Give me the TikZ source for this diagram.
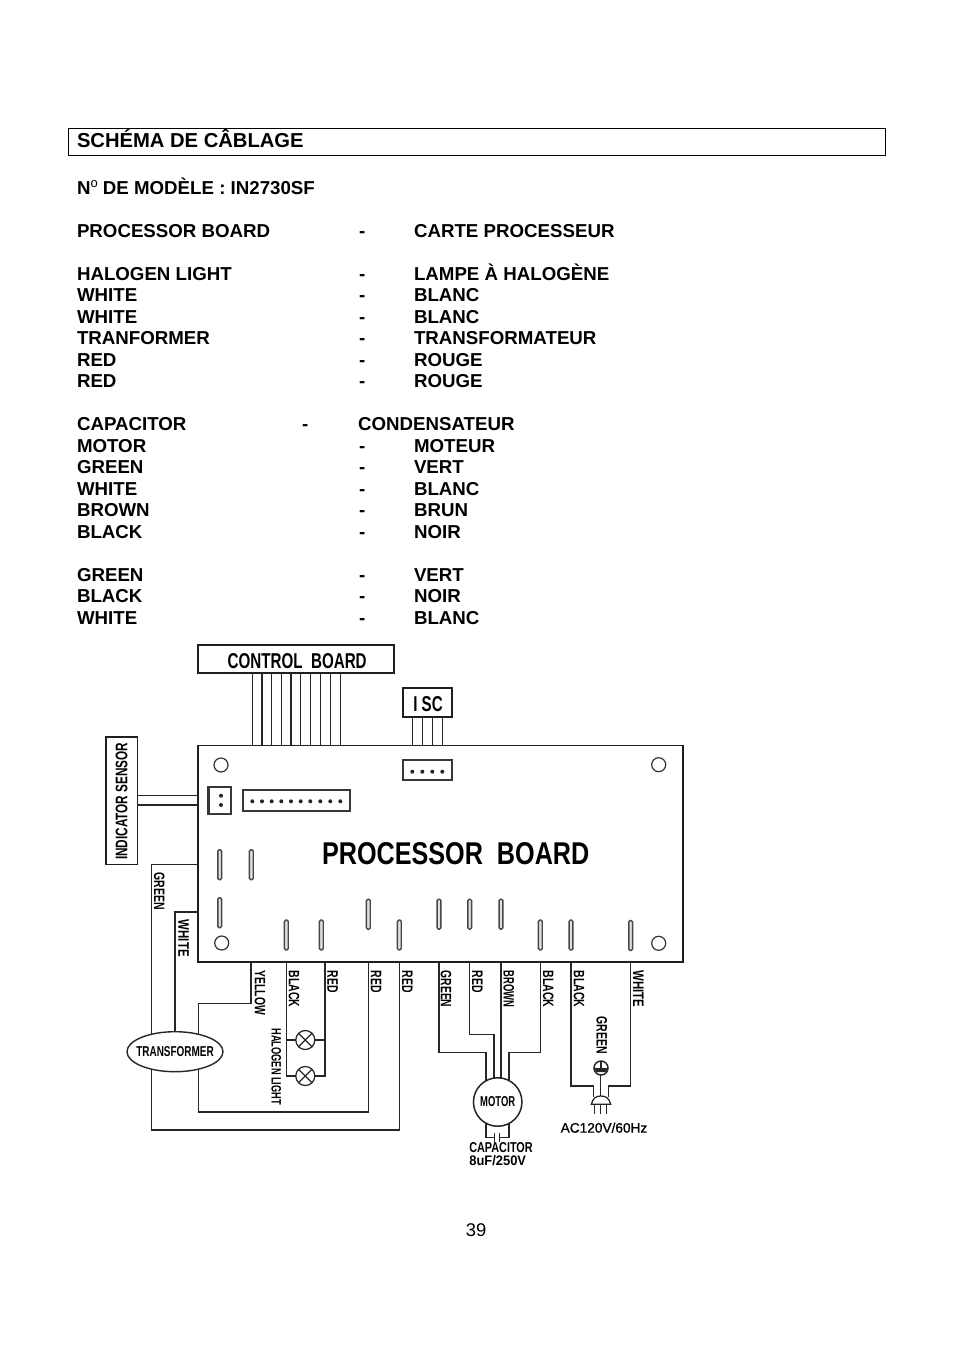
\documentclass[tikz,border=0pt]{standalone}
\usepackage{fontspec}
\setmainfont{Liberation Sans}
\newfontfamily\medf[FakeBold=1]{Liberation Sans}
\usetikzlibrary{calc,shapes.geometric}
\newcommand{\cad}[3]{\resizebox{#1pt}{#2pt}{\bfseries #3}}
\newcommand{\cadthin}[3]{\resizebox{#1pt}{#2pt}{\medf #3}}
\tikzset{
  x=1pt,y=-1pt,
  txt/.style={anchor=base west,inner sep=0,outer sep=0,font=\fontsize{18.7}{20}\selectfont\bfseries},
  heading/.style={txt,font=\fontsize{20.2}{20}\selectfont\bfseries},
  wire/.style={line width=1.25pt,black!85},
  box/.style={draw=black!88,line width=1.6pt,fill=white,inner sep=0,outer sep=0},
  lab/.style={inner sep=0,outer sep=0,anchor=center},
  vlab/.style={lab,rotate=-90},
  hole/.style={circle,draw=black!80,line width=1.2pt,minimum size=14pt,inner sep=0},
  slot/.style={rounded corners=1.4pt,draw=black!72,line width=1.4pt,fill=black!12,minimum width=3.8pt,minimum height=30pt,inner sep=0,outer sep=0},
  conn/.style={draw=black!78,line width=2.4pt,fill=white,inner sep=0,outer sep=0},
  pin/.style={circle,fill=black!85,inner sep=0,minimum size=4pt},
  lamp/.style={circle,draw=black!85,line width=1.25pt,fill=white,minimum size=19pt,inner sep=0,outer sep=0},
}
\begin{document}
\begin{tikzpicture}
\useasboundingbox (0,0) rectangle (954,1350);
% page heading
\node[draw=black,line width=0.8pt,inner sep=0,outer sep=0,minimum width=817pt,minimum height=27.5pt,anchor=north west] (hdr) at (68.5,128) {};
\node[heading] (t0) at (77,147.5) {SCHÉMA DE CÂBLAGE};
\node[txt] (t1) at (77,194) {N\raisebox{7pt}{\fontsize{13}{13}\selectfont\mdseries o} DE MODÈLE : IN2730SF};
\foreach \y/\a/\b [count=\i] in {
  237.1/PROCESSOR BOARD/CARTE PROCESSEUR,
  280.1/HALOGEN LIGHT/LAMPE À HALOGÈNE,
  301.1/WHITE/BLANC,
  323.1/WHITE/BLANC,
  344.1/TRANFORMER/TRANSFORMATEUR,
  366.1/RED/ROUGE,
  387.1/RED/ROUGE,
  452.1/MOTOR/MOTEUR,
  473.1/GREEN/VERT,
  495.1/WHITE/BLANC,
  516.1/BROWN/BRUN,
  538.1/BLACK/NOIR,
  581.1/GREEN/VERT,
  602.1/BLACK/NOIR,
  624.1/WHITE/BLANC}{
  \node[txt] (l\i) at (77,\y) {\a};
  \node[txt] (d\i) at (359,\y) {-};
  \node[txt] (r\i) at (414,\y) {\b};
}
\node[txt] (capl) at (77,430.1) {CAPACITOR};
\node[txt] (capd) at (302,430.1) {-};
\node[txt] (capr) at (358,430.1) {CONDENSATEUR};
\node[anchor=base,inner sep=0,font=\fontsize{18.4}{20}\selectfont] (page) at (476,1236.5) {39};

% boards and boxes
\node[box,anchor=north west,minimum width=485pt,minimum height=216.4pt] (board) at (197.7,745.3) {};
\node[box,anchor=north west,minimum width=196.3pt,minimum height=28.3pt] (ctrl) at (197.7,644.7) {};
\node[lab] at (297.2,660.7) {\cad{139}{15}{CONTROL\ \ BOARD}};
\node[box,anchor=north west,minimum width=49.3pt,minimum height=29pt] (isc) at (402.7,687.7) {};
\node[lab] at (428,704.3) {\cad{29.4}{15}{I SC}};
\node[box,anchor=north west,minimum width=31.6pt,minimum height=127.6pt] (sensor) at (105.7,736.7) {};
\node[lab,rotate=90] at (121.7,801.3) {\cad{117.3}{11.7}{INDICATOR SENSOR}};
\node[lab] (ptitle) at (455.7,853.8) {\cad{267.3}{22}{PROCESSOR\ \ BOARD}};

% holes
\node[hole] (h1) at (221,765) {};
\node[hole] (h2) at (658.7,764.7) {};
\node[hole] (h3) at (221.7,943) {};
\node[hole] (h4) at (658.7,943.3) {};

% connectors on the board
\node[conn,anchor=north west,minimum width=22.4pt,minimum height=27.3pt] (c2) at (208.3,786.7) {};
\node[pin] at (221,795.7) {};
\node[pin] at (221,805) {};
\node[conn,anchor=north west,minimum width=107.3pt,minimum height=20.7pt] (c10) at (242.7,790) {};
\node[conn,anchor=north west,minimum width=49.3pt,minimum height=20pt] (c4) at (402.7,760) {};
\foreach \x in {412.3,422.3,432.3,442.3}{
  \node[pin] at (\x,771.7) {};
  \draw[wire] (\x,716.7) -- (\x,745.3);
}
\foreach \x in {252.3,262,271.7,281.3,291,300.7,310.3,320.3,330.3,340.3}{
  \node[pin] at (\x,801.3) {};
  \draw[wire] (\x,673) -- (\x,745.3);
}
\draw[wire] (sensor.east |- 0,795.7) -- (board.west |- 0,795.7);
\draw[wire] (sensor.east |- 0,805) -- (board.west |- 0,805);

% slots
\foreach \n/\x/\y in {sa/219.7/864.7,sb/251.3/864.7,sc/219.7/912.7,sd/286.3/935,se/321.3/935,sf/368.3/914.2,sg/399.3/935,sh/439/914.2,si/469.7/914.2,sj/501/914.2,sk/540.3/935,sl/571/935,sm/630.7/935.5}{
  \node[slot] (\n) at (\x,\y) {};
}

% transformer, motor, lamps
\node[ellipse,draw=black!85,line width=1.4pt,fill=white,minimum width=96pt,minimum height=40pt,inner sep=0,outer sep=0] (tr) at (175,1051.7) {};
\node[lab] at (tr.center) {\cad{77.4}{10}{TRANSFORMER}};
\node[circle,draw=black!85,line width=1.5pt,fill=white,minimum size=48.5pt,inner sep=0,outer sep=0] (motor) at (497.7,1102) {};
\node[lab] at (motor.center) {\cad{35}{10}{MOTOR}};
\node[lamp] (la) at (305.3,1040) {};
\node[lamp] (lb) at (305.3,1076) {};
\foreach \n in {la,lb}{
  \draw[wire] (\n.45) -- (\n.225);
  \draw[wire] (\n.135) -- (\n.315);
}

% wiring: transformer side
\draw[wire] (board.west |- 0,864.7) -- (151.7,864.7) -- (151.7,1034.2);
\draw[wire] (151.7,1069.2) -- (151.7,1130) -| (sg |- board.south);
\draw[wire] (board.west |- 0,912) -| (tr.north);
\draw[wire] (251,961.7) |- (198.3,1003.7) -- (198.3,1034.2);
\draw[wire] (198.3,1069.2) |- (368.3,1112) -- (sf |- board.south);
% lamps
\draw[wire] (sd |- board.south) |- (lb.west);
\draw[wire] (286.3,1040) -- (la.west);
\draw[wire] (325,961.7) |- (la.east);
\draw[wire] (325,1040) |- (lb.east);
% motor
\draw[wire] (sh |- board.south) |- (486,1052.7) -- (486,1081);
\draw[wire] (si |- board.south) |- (494,1034.7) -- (494,1078);
\draw[wire] (sj |- board.south) -- (501,1078);
\draw[wire] (sk |- board.south) |- (509,1052.7) -- (509,1081);
% capacitor
\coordinate (pa) at (494.3,1137.3);
\coordinate (pb) at (499.7,1137.3);
\draw[wire] (486,1123) |- (pa);
\draw[wire] (509,1123) |- (pb);
\draw[wire] (494.3,1133) -- (494.3,1141.5);
\draw[wire] (499.7,1133) -- (499.7,1141.5);
% mains
\coordinate (gnd) at (601,1068);
\draw[wire] (sl |- board.south) |- (593.3,1086) -- (593.3,1097);
\draw[wire] (sm |- board.south) |- (608.3,1086) -- (608.3,1097);
\draw[wire] (600.7,1075) -- (600.7,1097);
\draw[wire,fill=white] (591.3,1104.3) .. controls (593,1098) and (596,1096) .. (600.8,1096) .. controls (606,1096) and (609,1098) .. (610.7,1104.3) -- cycle;
\foreach \x in {594.7,600.7,606.7}{\draw[wire] (\x,1104.3) -- (\x,1113.7);}
\draw[wire,line width=1.5pt] (gnd) circle (7);
\fill[black!85] (594.5,1068) -- (607.5,1068) -- (606,1072) -- (596,1072) -- cycle;
\draw[wire] (601,1061) -- (601,1068);

% labels
\node[vlab] at (159.3,891.3) {\cad{37.3}{10.5}{GREEN}};
\node[vlab] at (183.7,938.3) {\cad{36.7}{10.5}{WHITE}};
\node[vlab] at (260,992.8) {\cad{44.3}{10.5}{YELLOW}};
\node[vlab] at (294,989) {\cad{36.7}{10.5}{BLACK}};
\node[vlab] at (332.7,981.7) {\cad{22}{10.5}{RED}};
\node[vlab] at (376,981.7) {\cad{22}{10.5}{RED}};
\node[vlab] at (407.3,981.7) {\cad{22}{10.5}{RED}};
\node[vlab] at (276.3,1066.7) {\cad{76.7}{9.5}{HALOGEN LIGHT}};
\node[vlab] at (446,989) {\cad{36.7}{10.5}{GREEN}};
\node[vlab] at (477.3,981.7) {\cad{22}{10.5}{RED}};
\node[vlab] at (508.7,989) {\cad{36.7}{10.5}{BROWN}};
\node[vlab] at (548.3,989) {\cad{36.7}{10.5}{BLACK}};
\node[vlab] at (579,989) {\cad{36.7}{10.5}{BLACK}};
\node[vlab] at (638.3,989) {\cad{36.7}{10.5}{WHITE}};
\node[vlab] at (601.7,1035.3) {\cad{37.3}{10.5}{GREEN}};
\node[lab] at (604,1127.7) {\cadthin{86.6}{10}{AC120V/60Hz}};
\node[lab] at (501,1148) {\cad{63.4}{10}{CAPACITOR}};
\node[lab] at (497.7,1161) {\cad{56.7}{10}{8uF/250V}};
\end{tikzpicture}
\end{document}
